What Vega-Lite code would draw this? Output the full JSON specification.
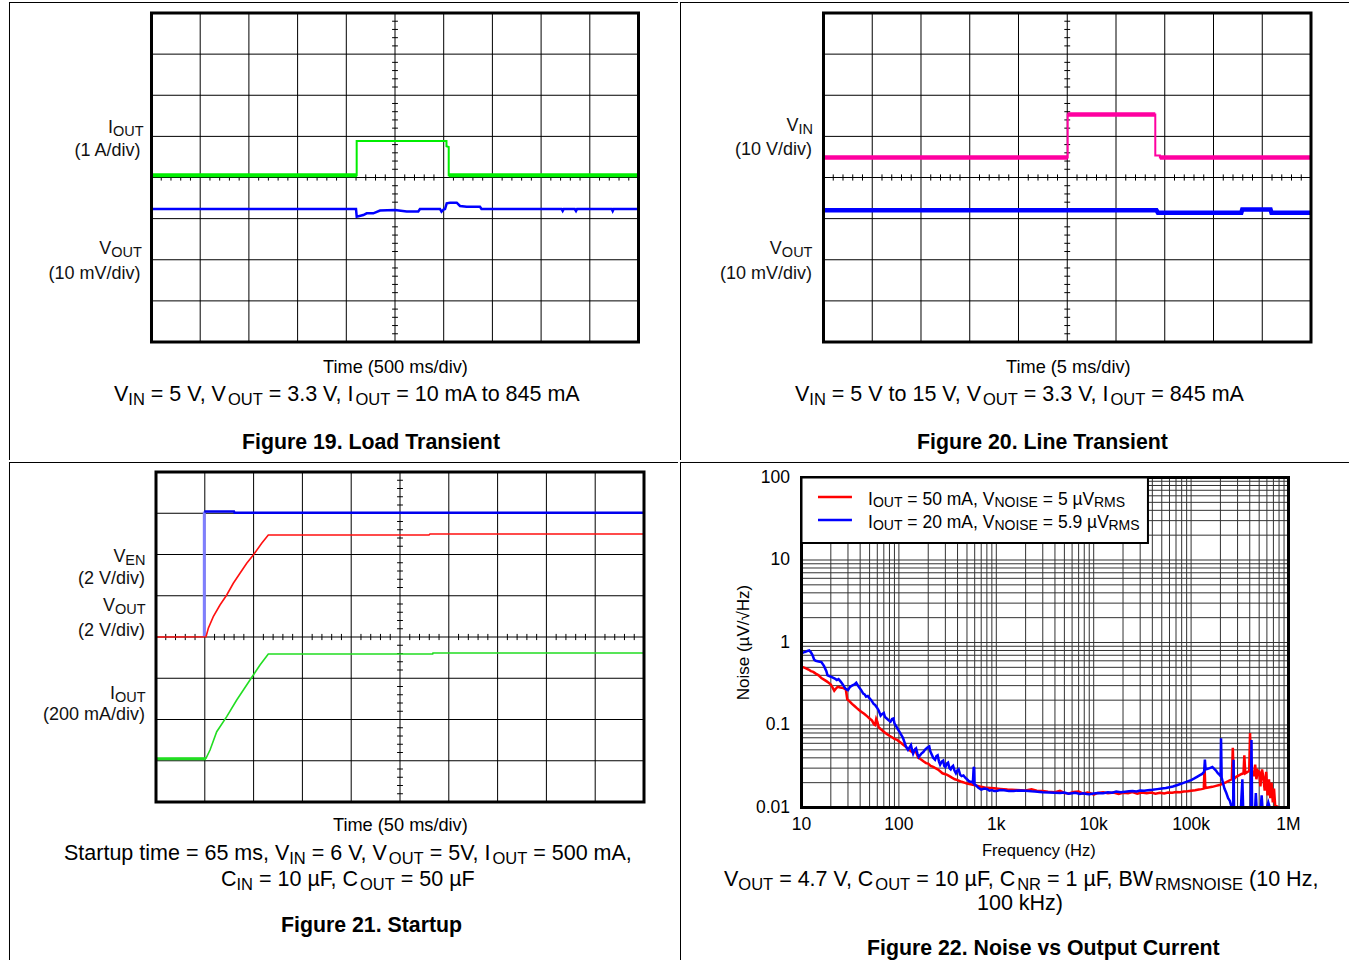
{
"$schema":"https://vega.github.io/schema/vega-lite/v6.json",
"padding":{"left":8,"top":1,"right":0,"bottom":0},
"autosize":{"type":"pad"},
"background":"white",
"spacing":0,
"config":{"font":"Liberation Sans","view":{"stroke":null},"concat":{"spacing":0},"rule":{"color":"black"},"text":{"color":"black","baseline":"alphabetic","align":"left"}},
"datasets":{
"gx":[{"g":1},{"g":2},{"g":3},{"g":4},{"g":5},{"g":6},{"g":7},{"g":8},{"g":9}],
"gy":[{"g":-3},{"g":-2},{"g":-1},{"g":0},{"g":1},{"g":2},{"g":3}],
"tx":[{"t":0.2},{"t":0.4},{"t":0.6},{"t":0.8},{"t":1.2},{"t":1.4},{"t":1.6},{"t":1.8},{"t":2.2},{"t":2.4},{"t":2.6},{"t":2.8},{"t":3.2},{"t":3.4},{"t":3.6},{"t":3.8},{"t":4.2},{"t":4.4},{"t":4.6},{"t":4.8},{"t":5.2},{"t":5.4},{"t":5.6},{"t":5.8},{"t":6.2},{"t":6.4},{"t":6.6},{"t":6.8},{"t":7.2},{"t":7.4},{"t":7.6},{"t":7.8},{"t":8.2},{"t":8.4},{"t":8.6},{"t":8.8},{"t":9.2},{"t":9.4},{"t":9.6},{"t":9.8}],
"ty":[{"t":-3.8},{"t":-3.6},{"t":-3.4},{"t":-3.2},{"t":-2.8},{"t":-2.6},{"t":-2.4},{"t":-2.2},{"t":-1.8},{"t":-1.6},{"t":-1.4},{"t":-1.2},{"t":-0.8},{"t":-0.6},{"t":-0.4},{"t":-0.2},{"t":0.2},{"t":0.4},{"t":0.6},{"t":0.8},{"t":1.2},{"t":1.4},{"t":1.6},{"t":1.8},{"t":2.2},{"t":2.4},{"t":2.6},{"t":2.8},{"t":3.2},{"t":3.4},{"t":3.6},{"t":3.8}],
"lx":[{"f":10},{"f":20},{"f":30},{"f":40},{"f":50},{"f":60},{"f":70},{"f":80},{"f":90},{"f":100},{"f":200},{"f":300},{"f":400},{"f":500},{"f":600},{"f":700},{"f":800},{"f":900},{"f":1000},{"f":2000},{"f":3000},{"f":4000},{"f":5000},{"f":6000},{"f":7000},{"f":8000},{"f":9000},{"f":10000},{"f":20000},{"f":30000},{"f":40000},{"f":50000},{"f":60000},{"f":70000},{"f":80000},{"f":90000},{"f":100000},{"f":200000},{"f":300000},{"f":400000},{"f":500000},{"f":600000},{"f":700000},{"f":800000},{"f":900000},{"f":1000000}],
"ly":[{"n":0.01},{"n":0.02},{"n":0.03},{"n":0.04},{"n":0.05},{"n":0.06},{"n":0.07},{"n":0.08},{"n":0.09},{"n":0.1},{"n":0.2},{"n":0.3},{"n":0.4},{"n":0.5},{"n":0.6},{"n":0.7},{"n":0.8},{"n":0.9},{"n":1},{"n":2},{"n":3},{"n":4},{"n":5},{"n":6},{"n":7},{"n":8},{"n":9},{"n":10},{"n":20},{"n":30},{"n":40},{"n":50},{"n":60},{"n":70},{"n":80},{"n":90},{"n":100}],
"noise50":[{"f":10,"n":0.51},{"f":10.5,"n":0.5},{"f":11,"n":0.49},{"f":11.8,"n":0.47},{"f":12.5,"n":0.45},{"f":13.2,"n":0.44},{"f":14,"n":0.42},{"f":15,"n":0.4},{"f":16,"n":0.37},{"f":17,"n":0.355},{"f":18,"n":0.34},{"f":19,"n":0.325},{"f":20,"n":0.31},{"f":21,"n":0.28},{"f":21.7,"n":0.26},{"f":22.5,"n":0.275},{"f":23.5,"n":0.29},{"f":25,"n":0.285},{"f":27,"n":0.28},{"f":28.5,"n":0.27},{"f":29.5,"n":0.205},{"f":31,"n":0.195},{"f":33,"n":0.18},{"f":35,"n":0.17},{"f":37,"n":0.16},{"f":39,"n":0.152},{"f":41,"n":0.145},{"f":44,"n":0.137},{"f":47,"n":0.128},{"f":50,"n":0.12},{"f":53,"n":0.113},{"f":55.5,"n":0.102},{"f":57,"n":0.1},{"f":58.5,"n":0.118},{"f":60,"n":0.11},{"f":62,"n":0.094},{"f":66,"n":0.088},{"f":70,"n":0.083},{"f":75,"n":0.078},{"f":80,"n":0.074},{"f":85,"n":0.071},{"f":90,"n":0.068},{"f":96,"n":0.066},{"f":103,"n":0.062},{"f":110,"n":0.058},{"f":117,"n":0.055},{"f":125,"n":0.051},{"f":133,"n":0.048},{"f":140,"n":0.046},{"f":146,"n":0.05},{"f":150,"n":0.047},{"f":158,"n":0.04},{"f":165,"n":0.039},{"f":180,"n":0.036},{"f":190,"n":0.0345},{"f":200,"n":0.034},{"f":212,"n":0.032},{"f":225,"n":0.031},{"f":237,"n":0.03},{"f":250,"n":0.029},{"f":265,"n":0.0275},{"f":280,"n":0.026},{"f":295,"n":0.0255},{"f":310,"n":0.025},{"f":330,"n":0.024},{"f":350,"n":0.023},{"f":375,"n":0.022},{"f":400,"n":0.0215},{"f":440,"n":0.0205},{"f":470,"n":0.02},{"f":500,"n":0.0195},{"f":560,"n":0.019},{"f":620,"n":0.0185},{"f":700,"n":0.0178},{"f":800,"n":0.0173},{"f":950,"n":0.0171},{"f":1100,"n":0.0168},{"f":1300,"n":0.0165},{"f":1600,"n":0.0163},{"f":2000,"n":0.0161},{"f":2300,"n":0.0166},{"f":2600,"n":0.016},{"f":3000,"n":0.0158},{"f":3400,"n":0.0155},{"f":4000,"n":0.0153},{"f":4500,"n":0.0159},{"f":5000,"n":0.015},{"f":5600,"n":0.0148},{"f":6200,"n":0.0154},{"f":7000,"n":0.0156},{"f":7800,"n":0.0147},{"f":8600,"n":0.0152},{"f":9300,"n":0.0149},{"f":10000,"n":0.0143},{"f":11000,"n":0.015},{"f":12500,"n":0.0153},{"f":14000,"n":0.0149},{"f":16000,"n":0.0152},{"f":18000,"n":0.0146},{"f":20000,"n":0.0151},{"f":22500,"n":0.0149},{"f":25000,"n":0.0154},{"f":28000,"n":0.0147},{"f":31000,"n":0.0152},{"f":35000,"n":0.0149},{"f":39000,"n":0.0152},{"f":43000,"n":0.0147},{"f":48000,"n":0.0151},{"f":53000,"n":0.0148},{"f":58000,"n":0.0152},{"f":64000,"n":0.0151},{"f":70000,"n":0.0154},{"f":77000,"n":0.0153},{"f":84000,"n":0.0156},{"f":92000,"n":0.0157},{"f":100000,"n":0.016},{"f":110000,"n":0.0162},{"f":120000,"n":0.0165},{"f":128000,"n":0.0167},{"f":135000,"n":0.017},{"f":137500,"n":0.031},{"f":140000,"n":0.0172},{"f":150000,"n":0.0175},{"f":165000,"n":0.0178},{"f":180000,"n":0.0183},{"f":195000,"n":0.0187},{"f":210000,"n":0.0193},{"f":230000,"n":0.0203},{"f":250000,"n":0.0214},{"f":262000,"n":0.022},{"f":268000,"n":0.053},{"f":274000,"n":0.022},{"f":290000,"n":0.0235},{"f":310000,"n":0.0245},{"f":330000,"n":0.0255},{"f":345000,"n":0.026},{"f":352000,"n":0.043},{"f":360000,"n":0.026},{"f":380000,"n":0.027},{"f":395000,"n":0.028},{"f":403000,"n":0.08},{"f":410000,"n":0.03},{"f":425000,"n":0.027},{"f":440000,"n":0.024},{"f":455000,"n":0.033},{"f":468000,"n":0.022},{"f":485000,"n":0.028},{"f":500000,"n":0.027},{"f":515000,"n":0.018},{"f":535000,"n":0.029},{"f":550000,"n":0.024},{"f":570000,"n":0.016},{"f":590000,"n":0.027},{"f":610000,"n":0.014},{"f":630000,"n":0.022},{"f":650000,"n":0.013},{"f":670000,"n":0.02},{"f":690000,"n":0.0115},{"f":710000,"n":0.017},{"f":730000,"n":0.0105},{"f":760000,"n":0.0103},{"f":790000,"n":0.0101}],
"noise20":[{"f":10,"n":0.74},{"f":10.5,"n":0.76},{"f":11,"n":0.77},{"f":11.5,"n":0.79},{"f":12,"n":0.8},{"f":12.5,"n":0.76},{"f":13,"n":0.7},{"f":13.5,"n":0.62},{"f":14,"n":0.6},{"f":15,"n":0.59},{"f":16,"n":0.58},{"f":17,"n":0.52},{"f":18,"n":0.45},{"f":18.5,"n":0.4},{"f":19.5,"n":0.39},{"f":20.5,"n":0.38},{"f":22,"n":0.365},{"f":23,"n":0.35},{"f":24,"n":0.36},{"f":25,"n":0.34},{"f":26,"n":0.32},{"f":27,"n":0.3},{"f":28,"n":0.28},{"f":29,"n":0.27},{"f":30,"n":0.265},{"f":31.5,"n":0.29},{"f":33,"n":0.3},{"f":35,"n":0.31},{"f":36.5,"n":0.325},{"f":38,"n":0.3},{"f":39.5,"n":0.28},{"f":41,"n":0.265},{"f":43,"n":0.24},{"f":44.5,"n":0.235},{"f":46,"n":0.22},{"f":48,"n":0.225},{"f":50,"n":0.21},{"f":52,"n":0.2},{"f":55,"n":0.18},{"f":57,"n":0.175},{"f":60,"n":0.16},{"f":62,"n":0.15},{"f":65,"n":0.13},{"f":67,"n":0.135},{"f":70,"n":0.14},{"f":72,"n":0.125},{"f":75,"n":0.12},{"f":78,"n":0.115},{"f":82,"n":0.11},{"f":85,"n":0.118},{"f":88,"n":0.12},{"f":90,"n":0.105},{"f":92,"n":0.1},{"f":96,"n":0.092},{"f":100,"n":0.085},{"f":105,"n":0.077},{"f":110,"n":0.07},{"f":114,"n":0.062},{"f":118,"n":0.055},{"f":124,"n":0.05},{"f":128,"n":0.053},{"f":133,"n":0.057},{"f":137,"n":0.049},{"f":140,"n":0.045},{"f":145,"n":0.05},{"f":150,"n":0.052},{"f":155,"n":0.045},{"f":160,"n":0.041},{"f":165,"n":0.043},{"f":170,"n":0.045},{"f":178,"n":0.047},{"f":185,"n":0.05},{"f":195,"n":0.053},{"f":205,"n":0.055},{"f":210,"n":0.048},{"f":215,"n":0.045},{"f":225,"n":0.04},{"f":235,"n":0.038},{"f":243,"n":0.042},{"f":250,"n":0.043},{"f":258,"n":0.036},{"f":265,"n":0.033},{"f":275,"n":0.036},{"f":285,"n":0.037},{"f":292,"n":0.032},{"f":300,"n":0.031},{"f":310,"n":0.034},{"f":320,"n":0.035},{"f":330,"n":0.03},{"f":340,"n":0.029},{"f":350,"n":0.031},{"f":360,"n":0.032},{"f":372,"n":0.028},{"f":385,"n":0.026},{"f":397,"n":0.028},{"f":410,"n":0.029},{"f":425,"n":0.025},{"f":440,"n":0.024},{"f":460,"n":0.0245},{"f":480,"n":0.023},{"f":500,"n":0.022},{"f":520,"n":0.021},{"f":540,"n":0.0205},{"f":560,"n":0.0205},{"f":575,"n":0.02},{"f":585,"n":0.03},{"f":592,"n":0.031},{"f":598,"n":0.019},{"f":620,"n":0.0185},{"f":650,"n":0.0175},{"f":700,"n":0.0165},{"f":750,"n":0.017},{"f":800,"n":0.0168},{"f":850,"n":0.016},{"f":900,"n":0.0163},{"f":950,"n":0.0158},{"f":1000,"n":0.0158},{"f":1100,"n":0.0163},{"f":1200,"n":0.0162},{"f":1350,"n":0.0158},{"f":1500,"n":0.0158},{"f":1700,"n":0.0161},{"f":2000,"n":0.016},{"f":2300,"n":0.0157},{"f":2500,"n":0.0156},{"f":2800,"n":0.0154},{"f":3000,"n":0.0153},{"f":3500,"n":0.0152},{"f":4000,"n":0.0151},{"f":4500,"n":0.015},{"f":5000,"n":0.0152},{"f":5500,"n":0.0147},{"f":6000,"n":0.0149},{"f":6500,"n":0.0151},{"f":7200,"n":0.0146},{"f":7800,"n":0.0149},{"f":8500,"n":0.0146},{"f":9000,"n":0.0145},{"f":10000,"n":0.0148},{"f":11000,"n":0.015},{"f":12500,"n":0.0149},{"f":14000,"n":0.0153},{"f":15500,"n":0.0151},{"f":17000,"n":0.0156},{"f":19000,"n":0.0153},{"f":21000,"n":0.0155},{"f":23000,"n":0.0157},{"f":25000,"n":0.0158},{"f":27500,"n":0.0156},{"f":30000,"n":0.0161},{"f":33000,"n":0.016},{"f":36000,"n":0.0162},{"f":40000,"n":0.0164},{"f":45000,"n":0.0167},{"f":50000,"n":0.017},{"f":55000,"n":0.0172},{"f":60000,"n":0.0176},{"f":65000,"n":0.018},{"f":70000,"n":0.0185},{"f":75000,"n":0.019},{"f":80000,"n":0.0195},{"f":85000,"n":0.02},{"f":92000,"n":0.0207},{"f":100000,"n":0.0215},{"f":108000,"n":0.0225},{"f":115000,"n":0.0235},{"f":122000,"n":0.0245},{"f":130000,"n":0.0255},{"f":136000,"n":0.027},{"f":138500,"n":0.038},{"f":141000,"n":0.029},{"f":148000,"n":0.0295},{"f":155000,"n":0.03},{"f":160000,"n":0.0305},{"f":165000,"n":0.031},{"f":172000,"n":0.0295},{"f":180000,"n":0.028},{"f":188000,"n":0.026},{"f":195000,"n":0.025},{"f":201000,"n":0.024},{"f":203000,"n":0.069},{"f":206000,"n":0.023},{"f":212000,"n":0.02},{"f":220000,"n":0.017},{"f":230000,"n":0.015},{"f":240000,"n":0.013},{"f":250000,"n":0.012},{"f":258000,"n":0.0105},{"f":262000,"n":0.0101},{"f":270000,"n":0.0101},{"f":273000,"n":0.038},{"f":276000,"n":0.0101},{"f":300000,"n":0.0101},{"f":325000,"n":0.0101},{"f":336000,"n":0.022},{"f":342000,"n":0.0101},{"f":380000,"n":0.0101},{"f":410000,"n":0.0101},{"f":417000,"n":0.066},{"f":423000,"n":0.0101},{"f":455000,"n":0.0101},{"f":462000,"n":0.015},{"f":470000,"n":0.0101},{"f":520000,"n":0.0101},{"f":530000,"n":0.014},{"f":540000,"n":0.0101},{"f":600000,"n":0.0101},{"f":620000,"n":0.0115},{"f":640000,"n":0.0101},{"f":680000,"n":0.0101}]
},
"vconcat":[
{"spacing":0,"hconcat":[
{"width":671,"height":460,"layer":[
{"data":{"values":[{}]},"mark":{"type":"rule","strokeWidth":1},"encoding":{"x":{"datum":-2.9158,"scale":{"domain":[-2.9466,10.8316],"nice":false,"zero":false},"axis":null},"y":{"datum":-6.8693,"scale":{"domain":[-6.8936,4.2918],"nice":false,"zero":false},"axis":null},"y2":{"datum":4.2675}}},
{"data":{"values":[{}]},"mark":{"type":"rule","strokeWidth":1},"encoding":{"x":{"datum":-2.9261,"scale":{"domain":[-2.9466,10.8316],"nice":false,"zero":false},"axis":null},"x2":{"datum":10.8111},"y":{"datum":4.2553,"scale":{"domain":[-6.8936,4.2918],"nice":false,"zero":false},"axis":null}}},
{"data":{"name":"gx"},"mark":{"type":"rule","strokeWidth":1},"encoding":{"x":{"field":"g","type":"quantitative","scale":{"domain":[-2.9466,10.8316],"nice":false,"zero":false},"axis":null},"y":{"datum":-4,"scale":{"domain":[-6.8936,4.2918],"nice":false,"zero":false},"axis":null},"y2":{"datum":4}}},
{"data":{"name":"gy"},"mark":{"type":"rule","strokeWidth":1},"encoding":{"y":{"field":"g","type":"quantitative","scale":{"domain":[-6.8936,4.2918],"nice":false,"zero":false},"axis":null},"x":{"datum":0,"scale":{"domain":[-2.9466,10.8316],"nice":false,"zero":false},"axis":null},"x2":{"datum":10}}},
{"data":{"name":"tx"},"mark":{"type":"rule","strokeWidth":1},"encoding":{"x":{"field":"t","type":"quantitative","scale":{"domain":[-2.9466,10.8316],"nice":false,"zero":false},"axis":null},"y":{"datum":-0.075,"scale":{"domain":[-6.8936,4.2918],"nice":false,"zero":false},"axis":null},"y2":{"datum":0.075}}},
{"data":{"name":"ty"},"mark":{"type":"rule","strokeWidth":1},"encoding":{"y":{"field":"t","type":"quantitative","scale":{"domain":[-6.8936,4.2918],"nice":false,"zero":false},"axis":null},"x":{"datum":4.94,"scale":{"domain":[-2.9466,10.8316],"nice":false,"zero":false},"axis":null},"x2":{"datum":5.06}}},
{"data":{"values":[{"i":1,"t":0,"v":-0.766},{"i":2,"t":4.199,"v":-0.766},{"i":3,"t":4.214,"v":-0.953},{"i":4,"t":4.349,"v":-0.912},{"i":5,"t":4.419,"v":-0.871},{"i":6,"t":4.554,"v":-0.871},{"i":7,"t":4.692,"v":-0.802},{"i":8,"t":5.0,"v":-0.79},{"i":9,"t":5.24,"v":-0.827},{"i":10,"t":5.478,"v":-0.827},{"i":11,"t":5.513,"v":-0.766},{"i":12,"t":5.924,"v":-0.766},{"i":13,"t":5.955,"v":-0.832},{"i":14,"t":5.996,"v":-0.778},{"i":15,"t":6.027,"v":-0.766},{"i":16,"t":6.062,"v":-0.627},{"i":17,"t":6.129,"v":-0.613},{"i":18,"t":6.267,"v":-0.613},{"i":19,"t":6.335,"v":-0.693},{"i":20,"t":6.472,"v":-0.71},{"i":21,"t":6.745,"v":-0.71},{"i":22,"t":6.776,"v":-0.766},{"i":23,"t":8.42,"v":-0.766},{"i":24,"t":8.443,"v":-0.815},{"i":25,"t":8.466,"v":-0.766},{"i":26,"t":8.69,"v":-0.766},{"i":27,"t":8.717,"v":-0.815},{"i":28,"t":8.74,"v":-0.766},{"i":29,"t":9.45,"v":-0.766},{"i":30,"t":9.47,"v":-0.815},{"i":31,"t":9.49,"v":-0.766},{"i":32,"t":10,"v":-0.766}]},"mark":{"type":"line","color":"#0000ff","strokeWidth":2.5},"encoding":{"x":{"field":"t","type":"quantitative","scale":{"domain":[-2.9466,10.8316],"nice":false,"zero":false},"axis":null},"y":{"field":"v","type":"quantitative","scale":{"domain":[-6.8936,4.2918],"nice":false,"zero":false},"axis":null},"order":{"field":"i","type":"quantitative"}}},
{"data":{"values":[{"i":1,"t":0,"v":0.053},{"i":2,"t":4.213,"v":0.053},{"i":3,"t":4.213,"v":0.888},{"i":4,"t":6.057,"v":0.888},{"i":5,"t":6.057,"v":0.76},{"i":6,"t":6.103,"v":0.74},{"i":7,"t":6.103,"v":0.053},{"i":8,"t":10,"v":0.053}]},"mark":{"type":"line","color":"#00ee00","strokeWidth":2},"encoding":{"x":{"field":"t","type":"quantitative","scale":{"domain":[-2.9466,10.8316],"nice":false,"zero":false},"axis":null},"y":{"field":"v","type":"quantitative","scale":{"domain":[-6.8936,4.2918],"nice":false,"zero":false},"axis":null},"order":{"field":"i","type":"quantitative"}}},
{"data":{"values":[{"s":"a","t":0,"v":0.053},{"s":"a","t":4.213,"v":0.053},{"s":"b","t":6.103,"v":0.053},{"s":"b","t":10,"v":0.053}]},"mark":{"type":"line","color":"#00ee00","strokeWidth":4},"encoding":{"x":{"field":"t","type":"quantitative","scale":{"domain":[-2.9466,10.8316],"nice":false,"zero":false},"axis":null},"y":{"field":"v","type":"quantitative","scale":{"domain":[-6.8936,4.2918],"nice":false,"zero":false},"axis":null},"detail":{"field":"s"}}},
{"data":{"values":[{}]},"mark":{"type":"rect","fill":"white","fillOpacity":0,"stroke":"black","strokeWidth":3},"encoding":{"x":{"datum":0,"scale":{"domain":[-2.9466,10.8316],"nice":false,"zero":false},"axis":null},"x2":{"datum":10},"y":{"datum":-4,"scale":{"domain":[-6.8936,4.2918],"nice":false,"zero":false},"axis":null},"y2":{"datum":4}}},
{"data":{"values":[{}]},"mark":{"type":"text","text":"I","align":"right","dx":-30.6,"fontSize":18,"color":"#111"},"encoding":{"x":{"datum":-0.164,"scale":{"domain":[-2.9466,10.8316],"nice":false,"zero":false},"axis":null},"y":{"datum":1.094,"scale":{"domain":[-6.8936,4.2918],"nice":false,"zero":false},"axis":null}}},
{"data":{"values":[{}]},"mark":{"type":"text","text":"OUT","align":"right","dy":3,"fontSize":14.5,"color":"#111"},"encoding":{"x":{"datum":-0.164,"scale":{"domain":[-2.9466,10.8316],"nice":false,"zero":false},"axis":null},"y":{"datum":1.094,"scale":{"domain":[-6.8936,4.2918],"nice":false,"zero":false},"axis":null}}},
{"data":{"values":[{}]},"mark":{"type":"text","text":"(1 A/div)","align":"right","fontSize":18,"color":"#111"},"encoding":{"x":{"datum":-0.226,"scale":{"domain":[-2.9466,10.8316],"nice":false,"zero":false},"axis":null},"y":{"datum":0.523,"scale":{"domain":[-6.8936,4.2918],"nice":false,"zero":false},"axis":null}}},
{"data":{"values":[{}]},"mark":{"type":"text","text":"V","align":"right","dx":-30.6,"fontSize":18,"color":"#111"},"encoding":{"x":{"datum":-0.2,"scale":{"domain":[-2.9466,10.8316],"nice":false,"zero":false},"axis":null},"y":{"datum":-1.86,"scale":{"domain":[-6.8936,4.2918],"nice":false,"zero":false},"axis":null}}},
{"data":{"values":[{}]},"mark":{"type":"text","text":"OUT","align":"right","dy":3,"fontSize":14.5,"color":"#111"},"encoding":{"x":{"datum":-0.2,"scale":{"domain":[-2.9466,10.8316],"nice":false,"zero":false},"axis":null},"y":{"datum":-1.86,"scale":{"domain":[-6.8936,4.2918],"nice":false,"zero":false},"axis":null}}},
{"data":{"values":[{}]},"mark":{"type":"text","text":"(10 mV/div)","align":"right","fontSize":18,"color":"#111"},"encoding":{"x":{"datum":-0.226,"scale":{"domain":[-2.9466,10.8316],"nice":false,"zero":false},"axis":null},"y":{"datum":-2.456,"scale":{"domain":[-6.8936,4.2918],"nice":false,"zero":false},"axis":null}}},
{"data":{"values":[{}]},"mark":{"type":"text","text":"Time (500 ms/div)","fontSize":18.2},"encoding":{"x":{"datum":3.522,"scale":{"domain":[-2.9466,10.8316],"nice":false,"zero":false},"axis":null},"y":{"datum":-4.754,"scale":{"domain":[-6.8936,4.2918],"nice":false,"zero":false},"axis":null}}},
{"data":{"values":[{}]},"mark":{"type":"text","text":"V","fontSize":21.5},"encoding":{"x":{"datum":-0.77,"scale":{"domain":[-2.9466,10.8316],"nice":false,"zero":false},"axis":null},"y":{"datum":-5.435,"scale":{"domain":[-6.8936,4.2918],"nice":false,"zero":false},"axis":null}}},
{"data":{"values":[{}]},"mark":{"type":"text","text":"IN","dx":14.34,"dy":4,"fontSize":16.5},"encoding":{"x":{"datum":-0.77,"scale":{"domain":[-2.9466,10.8316],"nice":false,"zero":false},"axis":null},"y":{"datum":-5.435,"scale":{"domain":[-6.8936,4.2918],"nice":false,"zero":false},"axis":null}}},
{"data":{"values":[{}]},"mark":{"type":"text","text":"= 5 V, V","dx":36.82,"fontSize":21.5},"encoding":{"x":{"datum":-0.77,"scale":{"domain":[-2.9466,10.8316],"nice":false,"zero":false},"axis":null},"y":{"datum":-5.435,"scale":{"domain":[-6.8936,4.2918],"nice":false,"zero":false},"axis":null}}},
{"data":{"values":[{}]},"mark":{"type":"text","text":"OUT","dx":113.92,"dy":4,"fontSize":16.5},"encoding":{"x":{"datum":-0.77,"scale":{"domain":[-2.9466,10.8316],"nice":false,"zero":false},"axis":null},"y":{"datum":-5.435,"scale":{"domain":[-6.8936,4.2918],"nice":false,"zero":false},"axis":null}}},
{"data":{"values":[{}]},"mark":{"type":"text","text":"= 3.3 V, I","dx":154.73,"fontSize":21.5},"encoding":{"x":{"datum":-0.77,"scale":{"domain":[-2.9466,10.8316],"nice":false,"zero":false},"axis":null},"y":{"datum":-5.435,"scale":{"domain":[-6.8936,4.2918],"nice":false,"zero":false},"axis":null}}},
{"data":{"values":[{}]},"mark":{"type":"text","text":"OUT","dx":241.39,"dy":4,"fontSize":16.5},"encoding":{"x":{"datum":-0.77,"scale":{"domain":[-2.9466,10.8316],"nice":false,"zero":false},"axis":null},"y":{"datum":-5.435,"scale":{"domain":[-6.8936,4.2918],"nice":false,"zero":false},"axis":null}}},
{"data":{"values":[{}]},"mark":{"type":"text","text":"= 10 mA to 845 mA","dx":282.2,"fontSize":21.5},"encoding":{"x":{"datum":-0.77,"scale":{"domain":[-2.9466,10.8316],"nice":false,"zero":false},"axis":null},"y":{"datum":-5.435,"scale":{"domain":[-6.8936,4.2918],"nice":false,"zero":false},"axis":null}}},
{"data":{"values":[{}]},"mark":{"type":"text","text":"Figure 19. Load Transient","fontSize":21.3,"fontWeight":"bold"},"encoding":{"x":{"datum":1.858,"scale":{"domain":[-2.9466,10.8316],"nice":false,"zero":false},"axis":null},"y":{"datum":-6.602,"scale":{"domain":[-6.8936,4.2918],"nice":false,"zero":false},"axis":null}}}
]},
{"width":671,"height":460,"layer":[
{"data":{"values":[{}]},"mark":{"type":"rule","strokeWidth":1},"encoding":{"x":{"datum":-2.9333,"scale":{"domain":[-2.9641,10.8],"nice":false,"zero":false},"axis":null},"y":{"datum":-6.8693,"scale":{"domain":[-6.8936,4.2918],"nice":false,"zero":false},"axis":null},"y2":{"datum":4.2675}}},
{"data":{"values":[{}]},"mark":{"type":"rule","strokeWidth":1},"encoding":{"x":{"datum":-2.9436,"scale":{"domain":[-2.9641,10.8],"nice":false,"zero":false},"axis":null},"x2":{"datum":10.7795},"y":{"datum":4.2553,"scale":{"domain":[-6.8936,4.2918],"nice":false,"zero":false},"axis":null}}},
{"data":{"name":"gx"},"mark":{"type":"rule","strokeWidth":1},"encoding":{"x":{"field":"g","type":"quantitative","scale":{"domain":[-2.9641,10.8],"nice":false,"zero":false},"axis":null},"y":{"datum":-4,"scale":{"domain":[-6.8936,4.2918],"nice":false,"zero":false},"axis":null},"y2":{"datum":4}}},
{"data":{"name":"gy"},"mark":{"type":"rule","strokeWidth":1},"encoding":{"y":{"field":"g","type":"quantitative","scale":{"domain":[-6.8936,4.2918],"nice":false,"zero":false},"axis":null},"x":{"datum":0,"scale":{"domain":[-2.9641,10.8],"nice":false,"zero":false},"axis":null},"x2":{"datum":10}}},
{"data":{"name":"tx"},"mark":{"type":"rule","strokeWidth":1},"encoding":{"x":{"field":"t","type":"quantitative","scale":{"domain":[-2.9641,10.8],"nice":false,"zero":false},"axis":null},"y":{"datum":-0.075,"scale":{"domain":[-6.8936,4.2918],"nice":false,"zero":false},"axis":null},"y2":{"datum":0.075}}},
{"data":{"name":"ty"},"mark":{"type":"rule","strokeWidth":1},"encoding":{"y":{"field":"t","type":"quantitative","scale":{"domain":[-6.8936,4.2918],"nice":false,"zero":false},"axis":null},"x":{"datum":4.94,"scale":{"domain":[-2.9641,10.8],"nice":false,"zero":false},"axis":null},"x2":{"datum":5.06}}},
{"data":{"values":[{"t":0,"v":-0.797},{"t":6.83,"v":-0.797},{"t":6.86,"v":-0.856},{"t":8.57,"v":-0.856},{"t":8.59,"v":-0.778},{"t":9.17,"v":-0.778},{"t":9.19,"v":-0.856},{"t":10,"v":-0.856}]},"mark":{"type":"line","color":"#0000ff","strokeWidth":4.5},"encoding":{"x":{"field":"t","type":"quantitative","scale":{"domain":[-2.9641,10.8],"nice":false,"zero":false},"axis":null},"y":{"field":"v","type":"quantitative","scale":{"domain":[-6.8936,4.2918],"nice":false,"zero":false},"axis":null}}},
{"data":{"values":[{"i":1,"t":0,"v":0.486},{"i":2,"t":5.009,"v":0.486},{"i":3,"t":5.009,"v":1.532},{"i":4,"t":6.806,"v":1.532},{"i":5,"t":6.806,"v":0.535},{"i":6,"t":6.9,"v":0.535},{"i":7,"t":6.9,"v":0.486},{"i":8,"t":10,"v":0.486}]},"mark":{"type":"line","color":"#ff00a0","strokeWidth":2},"encoding":{"x":{"field":"t","type":"quantitative","scale":{"domain":[-2.9641,10.8],"nice":false,"zero":false},"axis":null},"y":{"field":"v","type":"quantitative","scale":{"domain":[-6.8936,4.2918],"nice":false,"zero":false},"axis":null},"order":{"field":"i","type":"quantitative"}}},
{"data":{"values":[{"s":"a","t":0,"v":0.486},{"s":"a","t":5.009,"v":0.486},{"s":"b","t":5.009,"v":1.532},{"s":"b","t":6.806,"v":1.532},{"s":"c","t":6.9,"v":0.486},{"s":"c","t":10,"v":0.486}]},"mark":{"type":"line","color":"#ff00a0","strokeWidth":4.5},"encoding":{"x":{"field":"t","type":"quantitative","scale":{"domain":[-2.9641,10.8],"nice":false,"zero":false},"axis":null},"y":{"field":"v","type":"quantitative","scale":{"domain":[-6.8936,4.2918],"nice":false,"zero":false},"axis":null},"detail":{"field":"s"}}},
{"data":{"values":[{}]},"mark":{"type":"rect","fill":"white","fillOpacity":0,"stroke":"black","strokeWidth":3},"encoding":{"x":{"datum":0,"scale":{"domain":[-2.9641,10.8],"nice":false,"zero":false},"axis":null},"x2":{"datum":10},"y":{"datum":-4,"scale":{"domain":[-6.8936,4.2918],"nice":false,"zero":false},"axis":null},"y2":{"datum":4}}},
{"data":{"values":[{}]},"mark":{"type":"text","text":"V","align":"right","dx":-14.5,"fontSize":18,"color":"#111"},"encoding":{"x":{"datum":-0.215,"scale":{"domain":[-2.9641,10.8],"nice":false,"zero":false},"axis":null},"y":{"datum":1.119,"scale":{"domain":[-6.8936,4.2918],"nice":false,"zero":false},"axis":null}}},
{"data":{"values":[{}]},"mark":{"type":"text","text":"IN","align":"right","dy":3,"fontSize":14.5,"color":"#111"},"encoding":{"x":{"datum":-0.215,"scale":{"domain":[-2.9641,10.8],"nice":false,"zero":false},"axis":null},"y":{"datum":1.119,"scale":{"domain":[-6.8936,4.2918],"nice":false,"zero":false},"axis":null}}},
{"data":{"values":[{}]},"mark":{"type":"text","text":"(10 V/div)","align":"right","fontSize":18,"color":"#111"},"encoding":{"x":{"datum":-0.236,"scale":{"domain":[-2.9641,10.8],"nice":false,"zero":false},"axis":null},"y":{"datum":0.559,"scale":{"domain":[-6.8936,4.2918],"nice":false,"zero":false},"axis":null}}},
{"data":{"values":[{}]},"mark":{"type":"text","text":"V","align":"right","dx":-30.6,"fontSize":18,"color":"#111"},"encoding":{"x":{"datum":-0.226,"scale":{"domain":[-2.9641,10.8],"nice":false,"zero":false},"axis":null},"y":{"datum":-1.86,"scale":{"domain":[-6.8936,4.2918],"nice":false,"zero":false},"axis":null}}},
{"data":{"values":[{}]},"mark":{"type":"text","text":"OUT","align":"right","dy":3,"fontSize":14.5,"color":"#111"},"encoding":{"x":{"datum":-0.226,"scale":{"domain":[-2.9641,10.8],"nice":false,"zero":false},"axis":null},"y":{"datum":-1.86,"scale":{"domain":[-6.8936,4.2918],"nice":false,"zero":false},"axis":null}}},
{"data":{"values":[{}]},"mark":{"type":"text","text":"(10 mV/div)","align":"right","fontSize":18,"color":"#111"},"encoding":{"x":{"datum":-0.236,"scale":{"domain":[-2.9641,10.8],"nice":false,"zero":false},"axis":null},"y":{"datum":-2.456,"scale":{"domain":[-6.8936,4.2918],"nice":false,"zero":false},"axis":null}}},
{"data":{"values":[{}]},"mark":{"type":"text","text":"Time (5 ms/div)","fontSize":18.2},"encoding":{"x":{"datum":3.744,"scale":{"domain":[-2.9641,10.8],"nice":false,"zero":false},"axis":null},"y":{"datum":-4.754,"scale":{"domain":[-6.8936,4.2918],"nice":false,"zero":false},"axis":null}}},
{"data":{"values":[{}]},"mark":{"type":"text","text":"V","fontSize":21.5},"encoding":{"x":{"datum":-0.585,"scale":{"domain":[-2.9641,10.8],"nice":false,"zero":false},"axis":null},"y":{"datum":-5.435,"scale":{"domain":[-6.8936,4.2918],"nice":false,"zero":false},"axis":null}}},
{"data":{"values":[{}]},"mark":{"type":"text","text":"IN","dx":14.34,"dy":4,"fontSize":16.5},"encoding":{"x":{"datum":-0.585,"scale":{"domain":[-2.9641,10.8],"nice":false,"zero":false},"axis":null},"y":{"datum":-5.435,"scale":{"domain":[-6.8936,4.2918],"nice":false,"zero":false},"axis":null}}},
{"data":{"values":[{}]},"mark":{"type":"text","text":"= 5 V to 15 V, V","dx":36.82,"fontSize":21.5},"encoding":{"x":{"datum":-0.585,"scale":{"domain":[-2.9641,10.8],"nice":false,"zero":false},"axis":null},"y":{"datum":-5.435,"scale":{"domain":[-6.8936,4.2918],"nice":false,"zero":false},"axis":null}}},
{"data":{"values":[{}]},"mark":{"type":"text","text":"OUT","dx":188.03,"dy":4,"fontSize":16.5},"encoding":{"x":{"datum":-0.585,"scale":{"domain":[-2.9641,10.8],"nice":false,"zero":false},"axis":null},"y":{"datum":-5.435,"scale":{"domain":[-6.8936,4.2918],"nice":false,"zero":false},"axis":null}}},
{"data":{"values":[{}]},"mark":{"type":"text","text":"= 3.3 V, I","dx":228.84,"fontSize":21.5},"encoding":{"x":{"datum":-0.585,"scale":{"domain":[-2.9641,10.8],"nice":false,"zero":false},"axis":null},"y":{"datum":-5.435,"scale":{"domain":[-6.8936,4.2918],"nice":false,"zero":false},"axis":null}}},
{"data":{"values":[{}]},"mark":{"type":"text","text":"OUT","dx":315.5,"dy":4,"fontSize":16.5},"encoding":{"x":{"datum":-0.585,"scale":{"domain":[-2.9641,10.8],"nice":false,"zero":false},"axis":null},"y":{"datum":-5.435,"scale":{"domain":[-6.8936,4.2918],"nice":false,"zero":false},"axis":null}}},
{"data":{"values":[{}]},"mark":{"type":"text","text":"= 845 mA","dx":356.31,"fontSize":21.5},"encoding":{"x":{"datum":-0.585,"scale":{"domain":[-2.9641,10.8],"nice":false,"zero":false},"axis":null},"y":{"datum":-5.435,"scale":{"domain":[-6.8936,4.2918],"nice":false,"zero":false},"axis":null}}},
{"data":{"values":[{}]},"mark":{"type":"text","text":"Figure 20. Line Transient","fontSize":21.3,"fontWeight":"bold"},"encoding":{"x":{"datum":1.918,"scale":{"domain":[-2.9641,10.8],"nice":false,"zero":false},"axis":null},"y":{"datum":-6.602,"scale":{"domain":[-6.8936,4.2918],"nice":false,"zero":false},"axis":null}}}
]}
]},
{"spacing":0,"hconcat":[
{"width":671,"height":500,"layer":[
{"data":{"values":[{}]},"mark":{"type":"rule","strokeWidth":1},"encoding":{"x":{"datum":-3.0021,"scale":{"domain":[-3.0328,10.7172],"nice":false,"zero":false},"axis":null},"y":{"datum":-7.8303,"scale":{"domain":[-7.8545,4.2667],"nice":false,"zero":false},"axis":null},"y2":{"datum":4.2425}}},
{"data":{"values":[{}]},"mark":{"type":"rule","strokeWidth":1},"encoding":{"x":{"datum":-3.0123,"scale":{"domain":[-3.0328,10.7172],"nice":false,"zero":false},"axis":null},"x2":{"datum":10.6967},"y":{"datum":4.2303,"scale":{"domain":[-7.8545,4.2667],"nice":false,"zero":false},"axis":null}}},
{"data":{"name":"gx"},"mark":{"type":"rule","strokeWidth":1},"encoding":{"x":{"field":"g","type":"quantitative","scale":{"domain":[-3.0328,10.7172],"nice":false,"zero":false},"axis":null},"y":{"datum":-4,"scale":{"domain":[-7.8545,4.2667],"nice":false,"zero":false},"axis":null},"y2":{"datum":4}}},
{"data":{"name":"gy"},"mark":{"type":"rule","strokeWidth":1},"encoding":{"y":{"field":"g","type":"quantitative","scale":{"domain":[-7.8545,4.2667],"nice":false,"zero":false},"axis":null},"x":{"datum":0,"scale":{"domain":[-3.0328,10.7172],"nice":false,"zero":false},"axis":null},"x2":{"datum":10}}},
{"data":{"name":"tx"},"mark":{"type":"rule","strokeWidth":1},"encoding":{"x":{"field":"t","type":"quantitative","scale":{"domain":[-3.0328,10.7172],"nice":false,"zero":false},"axis":null},"y":{"datum":-0.075,"scale":{"domain":[-7.8545,4.2667],"nice":false,"zero":false},"axis":null},"y2":{"datum":0.075}}},
{"data":{"name":"ty"},"mark":{"type":"rule","strokeWidth":1},"encoding":{"y":{"field":"t","type":"quantitative","scale":{"domain":[-7.8545,4.2667],"nice":false,"zero":false},"axis":null},"x":{"datum":4.94,"scale":{"domain":[-3.0328,10.7172],"nice":false,"zero":false},"axis":null},"x2":{"datum":5.06}}},
{"data":{"values":[{"t":0.99,"a":0,"b":3.042}]},"mark":{"type":"rule","color":"#7f7fff","strokeWidth":3},"encoding":{"x":{"field":"t","type":"quantitative","scale":{"domain":[-3.0328,10.7172],"nice":false,"zero":false},"axis":null},"y":{"field":"a","type":"quantitative","scale":{"domain":[-7.8545,4.2667],"nice":false,"zero":false},"axis":null},"y2":{"field":"b"}}},
{"data":{"values":[{"t":0.99,"v":3.042},{"t":1.598,"v":3.042},{"t":1.61,"v":3.013},{"t":10,"v":3.013}]},"mark":{"type":"line","color":"#0000ee","strokeWidth":2.5},"encoding":{"x":{"field":"t","type":"quantitative","scale":{"domain":[-3.0328,10.7172],"nice":false,"zero":false},"axis":null},"y":{"field":"v","type":"quantitative","scale":{"domain":[-7.8545,4.2667],"nice":false,"zero":false},"axis":null}}},
{"data":{"values":[{"t":0,"v":0},{"t":1.025,"v":0.007},{"t":1.072,"v":0.211},{"t":1.174,"v":0.492},{"t":1.311,"v":0.776},{"t":1.449,"v":1.018},{"t":1.584,"v":1.302},{"t":1.721,"v":1.544},{"t":1.859,"v":1.787},{"t":1.994,"v":1.988},{"t":2.166,"v":2.272},{"t":2.301,"v":2.473},{"t":5.594,"v":2.473},{"t":5.615,"v":2.497},{"t":10,"v":2.497}]},"mark":{"type":"line","color":"#ff1010","strokeWidth":1.6},"encoding":{"x":{"field":"t","type":"quantitative","scale":{"domain":[-3.0328,10.7172],"nice":false,"zero":false},"axis":null},"y":{"field":"v","type":"quantitative","scale":{"domain":[-7.8545,4.2667],"nice":false,"zero":false},"axis":null}}},
{"data":{"values":[{"t":0,"v":-2.95},{"t":1.025,"v":-2.941},{"t":1.107,"v":-2.739},{"t":1.244,"v":-2.296},{"t":1.449,"v":-1.932},{"t":1.654,"v":-1.527},{"t":1.926,"v":-1.042},{"t":2.131,"v":-0.679},{"t":2.301,"v":-0.412},{"t":5.67,"v":-0.412},{"t":5.676,"v":-0.388},{"t":10,"v":-0.388}]},"mark":{"type":"line","color":"#22dd22","strokeWidth":1.6},"encoding":{"x":{"field":"t","type":"quantitative","scale":{"domain":[-3.0328,10.7172],"nice":false,"zero":false},"axis":null},"y":{"field":"v","type":"quantitative","scale":{"domain":[-7.8545,4.2667],"nice":false,"zero":false},"axis":null}}},
{"data":{"values":[{"t":0,"v":-2.95},{"t":1.025,"v":-2.95}]},"mark":{"type":"line","color":"#22dd22","strokeWidth":3},"encoding":{"x":{"field":"t","type":"quantitative","scale":{"domain":[-3.0328,10.7172],"nice":false,"zero":false},"axis":null},"y":{"field":"v","type":"quantitative","scale":{"domain":[-7.8545,4.2667],"nice":false,"zero":false},"axis":null}}},
{"data":{"values":[{}]},"mark":{"type":"rect","fill":"white","fillOpacity":0,"stroke":"black","strokeWidth":3},"encoding":{"x":{"datum":0,"scale":{"domain":[-3.0328,10.7172],"nice":false,"zero":false},"axis":null},"x2":{"datum":10},"y":{"datum":-4,"scale":{"domain":[-7.8545,4.2667],"nice":false,"zero":false},"axis":null},"y2":{"datum":4}}},
{"data":{"values":[{}]},"mark":{"type":"text","text":"V","align":"right","dx":-20.1,"fontSize":18,"color":"#111"},"encoding":{"x":{"datum":-0.215,"scale":{"domain":[-3.0328,10.7172],"nice":false,"zero":false},"axis":null},"y":{"datum":1.818,"scale":{"domain":[-7.8545,4.2667],"nice":false,"zero":false},"axis":null}}},
{"data":{"values":[{}]},"mark":{"type":"text","text":"EN","align":"right","dy":3,"fontSize":14.5,"color":"#111"},"encoding":{"x":{"datum":-0.215,"scale":{"domain":[-3.0328,10.7172],"nice":false,"zero":false},"axis":null},"y":{"datum":1.818,"scale":{"domain":[-7.8545,4.2667],"nice":false,"zero":false},"axis":null}}},
{"data":{"values":[{}]},"mark":{"type":"text","text":"(2 V/div)","align":"right","fontSize":18,"color":"#111"},"encoding":{"x":{"datum":-0.225,"scale":{"domain":[-3.0328,10.7172],"nice":false,"zero":false},"axis":null},"y":{"datum":1.285,"scale":{"domain":[-7.8545,4.2667],"nice":false,"zero":false},"axis":null}}},
{"data":{"values":[{}]},"mark":{"type":"text","text":"V","align":"right","dx":-30.6,"fontSize":18,"color":"#111"},"encoding":{"x":{"datum":-0.215,"scale":{"domain":[-3.0328,10.7172],"nice":false,"zero":false},"axis":null},"y":{"datum":0.63,"scale":{"domain":[-7.8545,4.2667],"nice":false,"zero":false},"axis":null}}},
{"data":{"values":[{}]},"mark":{"type":"text","text":"OUT","align":"right","dy":3,"fontSize":14.5,"color":"#111"},"encoding":{"x":{"datum":-0.215,"scale":{"domain":[-3.0328,10.7172],"nice":false,"zero":false},"axis":null},"y":{"datum":0.63,"scale":{"domain":[-7.8545,4.2667],"nice":false,"zero":false},"axis":null}}},
{"data":{"values":[{}]},"mark":{"type":"text","text":"(2 V/div)","align":"right","fontSize":18,"color":"#111"},"encoding":{"x":{"datum":-0.225,"scale":{"domain":[-3.0328,10.7172],"nice":false,"zero":false},"axis":null},"y":{"datum":0.036,"scale":{"domain":[-7.8545,4.2667],"nice":false,"zero":false},"axis":null}}},
{"data":{"values":[{}]},"mark":{"type":"text","text":"I","align":"right","dx":-30.6,"fontSize":18,"color":"#111"},"encoding":{"x":{"datum":-0.215,"scale":{"domain":[-3.0328,10.7172],"nice":false,"zero":false},"axis":null},"y":{"datum":-1.503,"scale":{"domain":[-7.8545,4.2667],"nice":false,"zero":false},"axis":null}}},
{"data":{"values":[{}]},"mark":{"type":"text","text":"OUT","align":"right","dy":3,"fontSize":14.5,"color":"#111"},"encoding":{"x":{"datum":-0.215,"scale":{"domain":[-3.0328,10.7172],"nice":false,"zero":false},"axis":null},"y":{"datum":-1.503,"scale":{"domain":[-7.8545,4.2667],"nice":false,"zero":false},"axis":null}}},
{"data":{"values":[{}]},"mark":{"type":"text","text":"(200 mA/div)","align":"right","fontSize":18,"color":"#111"},"encoding":{"x":{"datum":-0.225,"scale":{"domain":[-3.0328,10.7172],"nice":false,"zero":false},"axis":null},"y":{"datum":-2.024,"scale":{"domain":[-7.8545,4.2667],"nice":false,"zero":false},"axis":null}}},
{"data":{"values":[{}]},"mark":{"type":"text","text":"Time (50 ms/div)","fontSize":18.2},"encoding":{"x":{"datum":3.627,"scale":{"domain":[-3.0328,10.7172],"nice":false,"zero":false},"axis":null},"y":{"datum":-4.703,"scale":{"domain":[-7.8545,4.2667],"nice":false,"zero":false},"axis":null}}},
{"data":{"values":[{}]},"mark":{"type":"text","text":"Startup time = 65 ms, V","fontSize":21.5},"encoding":{"x":{"datum":-1.885,"scale":{"domain":[-3.0328,10.7172],"nice":false,"zero":false},"axis":null},"y":{"datum":-5.406,"scale":{"domain":[-7.8545,4.2667],"nice":false,"zero":false},"axis":null}}},
{"data":{"values":[{}]},"mark":{"type":"text","text":"IN","dx":225.26,"dy":4,"fontSize":16.5},"encoding":{"x":{"datum":-1.885,"scale":{"domain":[-3.0328,10.7172],"nice":false,"zero":false},"axis":null},"y":{"datum":-5.406,"scale":{"domain":[-7.8545,4.2667],"nice":false,"zero":false},"axis":null}}},
{"data":{"values":[{}]},"mark":{"type":"text","text":"= 6 V, V","dx":247.74,"fontSize":21.5},"encoding":{"x":{"datum":-1.885,"scale":{"domain":[-3.0328,10.7172],"nice":false,"zero":false},"axis":null},"y":{"datum":-5.406,"scale":{"domain":[-7.8545,4.2667],"nice":false,"zero":false},"axis":null}}},
{"data":{"values":[{}]},"mark":{"type":"text","text":"OUT","dx":324.84,"dy":4,"fontSize":16.5},"encoding":{"x":{"datum":-1.885,"scale":{"domain":[-3.0328,10.7172],"nice":false,"zero":false},"axis":null},"y":{"datum":-5.406,"scale":{"domain":[-7.8545,4.2667],"nice":false,"zero":false},"axis":null}}},
{"data":{"values":[{}]},"mark":{"type":"text","text":"= 5V, I","dx":365.65,"fontSize":21.5},"encoding":{"x":{"datum":-1.885,"scale":{"domain":[-3.0328,10.7172],"nice":false,"zero":false},"axis":null},"y":{"datum":-5.406,"scale":{"domain":[-7.8545,4.2667],"nice":false,"zero":false},"axis":null}}},
{"data":{"values":[{}]},"mark":{"type":"text","text":"OUT","dx":428.41,"dy":4,"fontSize":16.5},"encoding":{"x":{"datum":-1.885,"scale":{"domain":[-3.0328,10.7172],"nice":false,"zero":false},"axis":null},"y":{"datum":-5.406,"scale":{"domain":[-7.8545,4.2667],"nice":false,"zero":false},"axis":null}}},
{"data":{"values":[{}]},"mark":{"type":"text","text":"= 500 mA,","dx":469.22,"fontSize":21.5},"encoding":{"x":{"datum":-1.885,"scale":{"domain":[-3.0328,10.7172],"nice":false,"zero":false},"axis":null},"y":{"datum":-5.406,"scale":{"domain":[-7.8545,4.2667],"nice":false,"zero":false},"axis":null}}},
{"data":{"values":[{}]},"mark":{"type":"text","text":"C","fontSize":21.5},"encoding":{"x":{"datum":1.332,"scale":{"domain":[-3.0328,10.7172],"nice":false,"zero":false},"axis":null},"y":{"datum":-6.036,"scale":{"domain":[-7.8545,4.2667],"nice":false,"zero":false},"axis":null}}},
{"data":{"values":[{}]},"mark":{"type":"text","text":"IN","dx":15.52,"dy":4,"fontSize":16.5},"encoding":{"x":{"datum":1.332,"scale":{"domain":[-3.0328,10.7172],"nice":false,"zero":false},"axis":null},"y":{"datum":-6.036,"scale":{"domain":[-7.8545,4.2667],"nice":false,"zero":false},"axis":null}}},
{"data":{"values":[{}]},"mark":{"type":"text","text":"= 10 µF, C","dx":38.0,"fontSize":21.5},"encoding":{"x":{"datum":1.332,"scale":{"domain":[-3.0328,10.7172],"nice":false,"zero":false},"axis":null},"y":{"datum":-6.036,"scale":{"domain":[-7.8545,4.2667],"nice":false,"zero":false},"axis":null}}},
{"data":{"values":[{}]},"mark":{"type":"text","text":"OUT","dx":138.98,"dy":4,"fontSize":16.5},"encoding":{"x":{"datum":1.332,"scale":{"domain":[-3.0328,10.7172],"nice":false,"zero":false},"axis":null},"y":{"datum":-6.036,"scale":{"domain":[-7.8545,4.2667],"nice":false,"zero":false},"axis":null}}},
{"data":{"values":[{}]},"mark":{"type":"text","text":"= 50 µF","dx":179.79,"fontSize":21.5},"encoding":{"x":{"datum":1.332,"scale":{"domain":[-3.0328,10.7172],"nice":false,"zero":false},"axis":null},"y":{"datum":-6.036,"scale":{"domain":[-7.8545,4.2667],"nice":false,"zero":false},"axis":null}}},
{"data":{"values":[{}]},"mark":{"type":"text","text":"Figure 21. Startup","fontSize":21.3,"fontWeight":"bold"},"encoding":{"x":{"datum":2.561,"scale":{"domain":[-3.0328,10.7172],"nice":false,"zero":false},"axis":null},"y":{"datum":-7.152,"scale":{"domain":[-7.8545,4.2667],"nice":false,"zero":false},"axis":null}}}
]},
{"width":671,"height":500,"layer":[
{"data":{"values":[{}]},"mark":{"type":"rule","strokeWidth":1},"encoding":{"x":{"datum":0.57241,"scale":{"type":"log","domain":[0.55245,4279700],"nice":false},"axis":null},"y":{"datum":0.00014175,"scale":{"type":"log","domain":[0.00013785,158.49],"nice":false},"axis":null},"y2":{"datum":154.12}}},
{"data":{"values":[{}]},"mark":{"type":"rule","strokeWidth":1},"encoding":{"x":{"datum":0.56566,"scale":{"type":"log","domain":[0.55245,4279700],"nice":false},"axis":null},"x2":{"datum":4179700},"y":{"datum":152.0,"scale":{"type":"log","domain":[0.00013785,158.49],"nice":false},"axis":null}}},
{"data":{"name":"lx"},"mark":{"type":"rule","strokeWidth":1,"color":"#333"},"encoding":{"x":{"field":"f","type":"quantitative","scale":{"type":"log","domain":[0.55245,4279700],"nice":false},"axis":null},"y":{"datum":0.01,"scale":{"type":"log","domain":[0.00013785,158.49],"nice":false},"axis":null},"y2":{"datum":100}}},
{"data":{"name":"ly"},"mark":{"type":"rule","strokeWidth":1,"color":"#333"},"encoding":{"y":{"field":"n","type":"quantitative","scale":{"type":"log","domain":[0.00013785,158.49],"nice":false},"axis":null},"x":{"datum":10,"scale":{"type":"log","domain":[0.55245,4279700],"nice":false},"axis":null},"x2":{"datum":1000000}}},
{"data":{"name":"noise50"},"mark":{"type":"line","color":"#ff0000","strokeWidth":2.5},"encoding":{"x":{"field":"f","type":"quantitative","scale":{"type":"log","domain":[0.55245,4279700],"nice":false},"axis":null},"y":{"field":"n","type":"quantitative","scale":{"type":"log","domain":[0.00013785,158.49],"nice":false},"axis":null}}},
{"data":{"name":"noise20"},"mark":{"type":"line","color":"#0000ff","strokeWidth":2.5},"encoding":{"x":{"field":"f","type":"quantitative","scale":{"type":"log","domain":[0.55245,4279700],"nice":false},"axis":null},"y":{"field":"n","type":"quantitative","scale":{"type":"log","domain":[0.00013785,158.49],"nice":false},"axis":null}}},
{"data":{"values":[{}]},"mark":{"type":"rect","fill":"white","fillOpacity":0,"stroke":"black","strokeWidth":3},"encoding":{"x":{"datum":10,"scale":{"type":"log","domain":[0.55245,4279700],"nice":false},"axis":null},"x2":{"datum":1000000},"y":{"datum":0.01,"scale":{"type":"log","domain":[0.00013785,158.49],"nice":false},"axis":null},"y2":{"datum":100}}},
{"data":{"values":[{}]},"mark":{"type":"rect","fill":"white","stroke":"black","strokeWidth":2},"encoding":{"x":{"datum":10,"scale":{"type":"log","domain":[0.55245,4279700],"nice":false},"axis":null},"x2":{"datum":36060},"y":{"datum":16.07,"scale":{"type":"log","domain":[0.00013785,158.49],"nice":false},"axis":null},"y2":{"datum":100}}},
{"data":{"values":[{}]},"mark":{"type":"rule","color":"#ff0000","strokeWidth":2.5},"encoding":{"x":{"datum":14.77,"scale":{"type":"log","domain":[0.55245,4279700],"nice":false},"axis":null},"x2":{"datum":32.96},"y":{"datum":58.0,"scale":{"type":"log","domain":[0.00013785,158.49],"nice":false},"axis":null}}},
{"data":{"values":[{}]},"mark":{"type":"rule","color":"#0000ff","strokeWidth":2.5},"encoding":{"x":{"datum":14.77,"scale":{"type":"log","domain":[0.55245,4279700],"nice":false},"axis":null},"x2":{"datum":32.96},"y":{"datum":30.5,"scale":{"type":"log","domain":[0.00013785,158.49],"nice":false},"axis":null}}},
{"data":{"values":[{}]},"mark":{"type":"text","text":"I","fontSize":17.5},"encoding":{"x":{"datum":48.2,"scale":{"type":"log","domain":[0.55245,4279700],"nice":false},"axis":null},"y":{"datum":46.42,"scale":{"type":"log","domain":[0.00013785,158.49],"nice":false},"axis":null}}},
{"data":{"values":[{}]},"mark":{"type":"text","text":"OUT","dx":4.87,"dy":2.5,"fontSize":14},"encoding":{"x":{"datum":48.2,"scale":{"type":"log","domain":[0.55245,4279700],"nice":false},"axis":null},"y":{"datum":46.42,"scale":{"type":"log","domain":[0.00013785,158.49],"nice":false},"axis":null}}},
{"data":{"values":[{}]},"mark":{"type":"text","text":"= 50 mA, V","dx":39.29,"fontSize":17.5},"encoding":{"x":{"datum":48.2,"scale":{"type":"log","domain":[0.55245,4279700],"nice":false},"axis":null},"y":{"datum":46.42,"scale":{"type":"log","domain":[0.00013785,158.49],"nice":false},"axis":null}}},
{"data":{"values":[{}]},"mark":{"type":"text","text":"NOISE","dx":126.35,"dy":2.5,"fontSize":14},"encoding":{"x":{"datum":48.2,"scale":{"type":"log","domain":[0.55245,4279700],"nice":false},"axis":null},"y":{"datum":46.42,"scale":{"type":"log","domain":[0.00013785,158.49],"nice":false},"axis":null}}},
{"data":{"values":[{}]},"mark":{"type":"text","text":"= 5 µV","dx":174.79,"fontSize":17.5},"encoding":{"x":{"datum":48.2,"scale":{"type":"log","domain":[0.55245,4279700],"nice":false},"axis":null},"y":{"datum":46.42,"scale":{"type":"log","domain":[0.00013785,158.49],"nice":false},"axis":null}}},
{"data":{"values":[{}]},"mark":{"type":"text","text":"RMS","dx":225.87,"dy":2.5,"fontSize":14},"encoding":{"x":{"datum":48.2,"scale":{"type":"log","domain":[0.55245,4279700],"nice":false},"axis":null},"y":{"datum":46.42,"scale":{"type":"log","domain":[0.00013785,158.49],"nice":false},"axis":null}}},
{"data":{"values":[{}]},"mark":{"type":"text","text":"I","fontSize":17.5},"encoding":{"x":{"datum":48.2,"scale":{"type":"log","domain":[0.55245,4279700],"nice":false},"axis":null},"y":{"datum":24.77,"scale":{"type":"log","domain":[0.00013785,158.49],"nice":false},"axis":null}}},
{"data":{"values":[{}]},"mark":{"type":"text","text":"OUT","dx":4.87,"dy":2.5,"fontSize":14},"encoding":{"x":{"datum":48.2,"scale":{"type":"log","domain":[0.55245,4279700],"nice":false},"axis":null},"y":{"datum":24.77,"scale":{"type":"log","domain":[0.00013785,158.49],"nice":false},"axis":null}}},
{"data":{"values":[{}]},"mark":{"type":"text","text":"= 20 mA, V","dx":39.29,"fontSize":17.5},"encoding":{"x":{"datum":48.2,"scale":{"type":"log","domain":[0.55245,4279700],"nice":false},"axis":null},"y":{"datum":24.77,"scale":{"type":"log","domain":[0.00013785,158.49],"nice":false},"axis":null}}},
{"data":{"values":[{}]},"mark":{"type":"text","text":"NOISE","dx":126.35,"dy":2.5,"fontSize":14},"encoding":{"x":{"datum":48.2,"scale":{"type":"log","domain":[0.55245,4279700],"nice":false},"axis":null},"y":{"datum":24.77,"scale":{"type":"log","domain":[0.00013785,158.49],"nice":false},"axis":null}}},
{"data":{"values":[{}]},"mark":{"type":"text","text":"= 5.9 µV","dx":174.79,"fontSize":17.5},"encoding":{"x":{"datum":48.2,"scale":{"type":"log","domain":[0.55245,4279700],"nice":false},"axis":null},"y":{"datum":24.77,"scale":{"type":"log","domain":[0.00013785,158.49],"nice":false},"axis":null}}},
{"data":{"values":[{}]},"mark":{"type":"text","text":"RMS","dx":240.46,"dy":2.5,"fontSize":14},"encoding":{"x":{"datum":48.2,"scale":{"type":"log","domain":[0.55245,4279700],"nice":false},"axis":null},"y":{"datum":24.77,"scale":{"type":"log","domain":[0.00013785,158.49],"nice":false},"axis":null}}},
{"data":{"values":[{"f":10,"l":"10"},{"f":100,"l":"100"},{"f":1000,"l":"1k"},{"f":10000,"l":"10k"},{"f":100000,"l":"100k"},{"f":1000000,"l":"1M"}]},"mark":{"type":"text","align":"center","fontSize":17.5},"encoding":{"x":{"field":"f","type":"quantitative","scale":{"type":"log","domain":[0.55245,4279700],"nice":false},"axis":null},"y":{"datum":0.005337,"scale":{"type":"log","domain":[0.00013785,158.49],"nice":false},"axis":null},"text":{"field":"l"}}},
{"data":{"values":[{"n":0.01,"l":"0.01"},{"n":0.1,"l":"0.1"},{"n":1,"l":"1"},{"n":10,"l":"10"},{"n":100,"l":"100"}]},"mark":{"type":"text","align":"right","baseline":"middle","fontSize":17.5},"encoding":{"y":{"field":"n","type":"quantitative","scale":{"type":"log","domain":[0.00013785,158.49],"nice":false},"axis":null},"x":{"datum":7.62,"scale":{"type":"log","domain":[0.55245,4279700],"nice":false},"axis":null},"text":{"field":"l"}}},
{"data":{"values":[{}]},"mark":{"type":"text","text":"Noise (µV/√Hz)","align":"center","baseline":"middle","angle":270,"fontSize":17},"encoding":{"x":{"datum":2.569,"scale":{"type":"log","domain":[0.55245,4279700],"nice":false},"axis":null},"y":{"datum":1,"scale":{"type":"log","domain":[0.00013785,158.49],"nice":false},"axis":null}}},
{"data":{"values":[{}]},"mark":{"type":"text","text":"Frequency (Hz)","fontSize":16.5},"encoding":{"x":{"datum":713.2,"scale":{"type":"log","domain":[0.55245,4279700],"nice":false},"axis":null},"y":{"datum":0.002582,"scale":{"type":"log","domain":[0.00013785,158.49],"nice":false},"axis":null}}},
{"data":{"values":[{}]},"mark":{"type":"text","text":"V","fontSize":21.5},"encoding":{"x":{"datum":1.6,"scale":{"type":"log","domain":[0.55245,4279700],"nice":false},"axis":null},"y":{"datum":0.001118,"scale":{"type":"log","domain":[0.00013785,158.49],"nice":false},"axis":null}}},
{"data":{"values":[{}]},"mark":{"type":"text","text":"OUT","dx":14.34,"dy":4,"fontSize":16.5},"encoding":{"x":{"datum":1.6,"scale":{"type":"log","domain":[0.55245,4279700],"nice":false},"axis":null},"y":{"datum":0.001118,"scale":{"type":"log","domain":[0.00013785,158.49],"nice":false},"axis":null}}},
{"data":{"values":[{}]},"mark":{"type":"text","text":"= 4.7 V, C","dx":55.15,"fontSize":21.5},"encoding":{"x":{"datum":1.6,"scale":{"type":"log","domain":[0.55245,4279700],"nice":false},"axis":null},"y":{"datum":0.001118,"scale":{"type":"log","domain":[0.00013785,158.49],"nice":false},"axis":null}}},
{"data":{"values":[{}]},"mark":{"type":"text","text":"OUT","dx":151.36,"dy":4,"fontSize":16.5},"encoding":{"x":{"datum":1.6,"scale":{"type":"log","domain":[0.55245,4279700],"nice":false},"axis":null},"y":{"datum":0.001118,"scale":{"type":"log","domain":[0.00013785,158.49],"nice":false},"axis":null}}},
{"data":{"values":[{}]},"mark":{"type":"text","text":"= 10 µF, C","dx":192.17,"fontSize":21.5},"encoding":{"x":{"datum":1.6,"scale":{"type":"log","domain":[0.55245,4279700],"nice":false},"axis":null},"y":{"datum":0.001118,"scale":{"type":"log","domain":[0.00013785,158.49],"nice":false},"axis":null}}},
{"data":{"values":[{}]},"mark":{"type":"text","text":"NR","dx":293.15,"dy":4,"fontSize":16.5},"encoding":{"x":{"datum":1.6,"scale":{"type":"log","domain":[0.55245,4279700],"nice":false},"axis":null},"y":{"datum":0.001118,"scale":{"type":"log","domain":[0.00013785,158.49],"nice":false},"axis":null}}},
{"data":{"values":[{}]},"mark":{"type":"text","text":"= 1 µF, BW","dx":322.96,"fontSize":21.5},"encoding":{"x":{"datum":1.6,"scale":{"type":"log","domain":[0.55245,4279700],"nice":false},"axis":null},"y":{"datum":0.001118,"scale":{"type":"log","domain":[0.00013785,158.49],"nice":false},"axis":null}}},
{"data":{"values":[{}]},"mark":{"type":"text","text":"RMSNOISE","dx":431.1,"dy":4,"fontSize":16.5},"encoding":{"x":{"datum":1.6,"scale":{"type":"log","domain":[0.55245,4279700],"nice":false},"axis":null},"y":{"datum":0.001118,"scale":{"type":"log","domain":[0.00013785,158.49],"nice":false},"axis":null}}},
{"data":{"values":[{}]},"mark":{"type":"text","text":"(10 Hz,","dx":525.09,"fontSize":21.5},"encoding":{"x":{"datum":1.6,"scale":{"type":"log","domain":[0.55245,4279700],"nice":false},"axis":null},"y":{"datum":0.001118,"scale":{"type":"log","domain":[0.00013785,158.49],"nice":false},"axis":null}}},
{"data":{"values":[{}]},"mark":{"type":"text","text":"100 kHz)","fontSize":21.5},"encoding":{"x":{"datum":633.6,"scale":{"type":"log","domain":[0.55245,4279700],"nice":false},"axis":null},"y":{"datum":0.00058,"scale":{"type":"log","domain":[0.00013785,158.49],"nice":false},"axis":null}}},
{"data":{"values":[{}]},"mark":{"type":"text","text":"Figure 22. Noise vs Output Current","fontSize":21.3,"fontWeight":"bold"},"encoding":{"x":{"datum":47.03,"scale":{"type":"log","domain":[0.55245,4279700],"nice":false},"axis":null},"y":{"datum":0.000163,"scale":{"type":"log","domain":[0.00013785,158.49],"nice":false},"axis":null}}}
]}
]}
]
}
